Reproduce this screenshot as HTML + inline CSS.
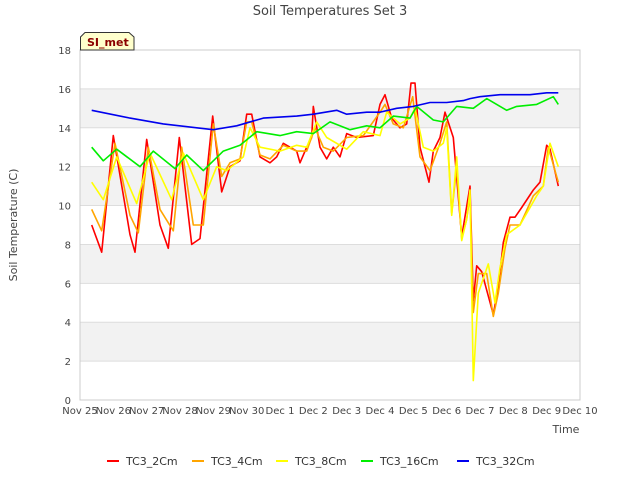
<!DOCTYPE html>
<html><head><meta charset="utf-8"><style>
body{margin:0;background:#fff;font-family:"Liberation Sans","DejaVu Sans",sans-serif;}
svg text{font-family:"DejaVu Sans","Liberation Sans",sans-serif;}
</style></head><body>
<svg id="c" width="640" height="480" viewBox="0 0 640 480">
<text x="330" y="15" text-anchor="middle" font-size="13" fill="#444">Soil Temperatures Set 3</text>
<g id="bands"></g>
<g id="grid"></g>
<rect x="80" y="50" width="500" height="350" fill="none" stroke="#ccc"/>
<g id="ticks"></g>
<g id="series"></g>
<text transform="translate(17,225) rotate(-90)" text-anchor="middle" font-size="11" fill="#444">Soil Temperature (C)</text>
<text x="566" y="433" text-anchor="middle" font-size="11" fill="#444">Time</text>
<g>
<path d="M80.5,50 L80.5,37 L85,32.5 L129,32.5 L134,37 L134,50 Z" fill="#ffffcc" stroke="#333"/>
<text x="87" y="46" font-size="11" font-weight="bold" fill="#8b0000">SI_met</text>
</g>
<g id="legend"></g>
</svg>
<script>
const xLabels=["Nov 25","Nov 26","Nov 27","Nov 28","Nov 29","Nov 30","Dec 1","Dec 2","Dec 3","Dec 4","Dec 5","Dec 6","Dec 7","Dec 8","Dec 9","Dec 10"];
const yTicks=[0,2,4,6,8,10,12,14,16,18];
const seriesNames=["TC3_2Cm","TC3_4Cm","TC3_8Cm","TC3_16Cm","TC3_32Cm"];
const seriesColors=["#ff0000","#ffa500","#ffff00","#00ee00","#0000ee"];
const t2=[0.35,0.65,1.0,1.5,1.65,2.0,2.4,2.65,2.98,3.35,3.6,3.98,4.25,4.5,4.8,5.0,5.15,5.4,5.7,5.9,6.1,6.5,6.6,6.8,6.95,7.0,7.2,7.4,7.6,7.8,8.0,8.3,8.8,9.0,9.15,9.35,9.6,9.8,9.93,10.05,10.2,10.47,10.6,10.8,10.95,11.2,11.45,11.7,11.8,11.9,12.05,12.4,12.55,12.7,12.9,13.05,13.25,13.6,13.8,14.0,14.1,14.35];
const v2=[9.0,7.6,13.6,8.5,7.6,13.4,9.0,7.8,13.5,8.0,8.3,14.6,10.7,12.0,12.3,14.7,14.7,12.5,12.2,12.5,13.2,12.8,12.2,13.0,13.5,15.1,13.0,12.4,13.0,12.5,13.7,13.5,13.6,15.2,15.7,14.5,14.0,14.2,16.3,16.3,13.0,11.2,12.8,13.5,14.8,13.5,8.4,11.0,5.1,6.9,6.6,4.4,5.8,8.1,9.4,9.4,9.9,10.8,11.2,13.1,12.9,11.0];
const t4=[0.35,0.65,1.05,1.5,1.75,2.05,2.4,2.8,3.05,3.4,3.7,4.0,4.25,4.5,4.8,5.0,5.15,5.4,5.7,6.1,6.5,6.8,7.05,7.3,7.6,8.0,8.5,9.0,9.15,9.4,9.7,9.98,10.2,10.5,10.8,11.0,11.15,11.3,11.45,11.6,11.7,11.8,11.95,12.2,12.4,12.55,12.75,12.9,13.2,13.6,13.9,14.05,14.35];
const v4=[9.8,8.7,13.2,9.5,8.6,13.0,9.8,8.7,13.0,9.0,9.0,14.2,11.5,12.2,12.4,14.3,14.3,12.6,12.4,13.1,12.8,12.8,14.0,13.0,12.8,13.5,13.6,14.8,15.2,14.2,14.0,15.6,12.5,11.8,13.2,14.3,9.6,12.0,8.3,9.3,10.5,4.5,6.5,6.5,4.3,5.5,7.8,9.0,9.0,10.5,11.0,13.0,11.2];
const t8=[0.35,0.7,1.1,1.7,2.1,2.75,3.1,3.7,4.1,4.4,4.9,5.1,5.4,6.0,6.5,6.8,7.1,7.4,8.0,8.5,9.0,9.2,9.6,9.9,10.05,10.3,10.6,10.9,11.0,11.15,11.3,11.45,11.6,11.7,11.8,11.95,12.25,12.45,12.6,12.8,13.2,13.7,13.9,14.1,14.35];
const v8=[11.2,10.3,12.5,10.1,12.7,10.3,12.7,10.3,12.0,11.8,12.5,14.0,13.0,12.8,13.1,13.0,14.3,13.5,12.9,13.8,13.6,14.8,14.2,14.5,15.0,13.0,12.8,13.2,14.0,9.5,12.5,8.2,9.3,10.8,1.0,5.5,7.0,5.0,6.8,8.5,9.0,10.5,11.0,13.2,12.0];
const t16=[0.35,0.7,1.1,1.8,2.2,2.85,3.2,3.7,4.3,4.8,5.3,6.0,6.5,7.0,7.5,8.1,8.6,9.0,9.4,9.9,10.1,10.6,10.9,11.3,11.8,12.2,12.8,13.1,13.7,14.2,14.35];
const v16=[13.0,12.3,12.9,12.0,12.8,11.9,12.6,11.8,12.8,13.1,13.8,13.6,13.8,13.7,14.3,13.9,14.1,14.0,14.6,14.5,15.1,14.4,14.3,15.1,15.0,15.5,14.9,15.1,15.2,15.6,15.2];
const t32=[0.35,1.5,2.5,3.5,4.0,4.7,5.5,6.5,7.0,7.7,8.0,8.6,9.0,9.5,10.0,10.5,11.0,11.5,11.7,12.0,12.6,13.0,13.5,14.0,14.35];
const v32=[14.9,14.5,14.2,14.0,13.9,14.1,14.5,14.6,14.7,14.9,14.7,14.8,14.8,15.0,15.1,15.3,15.3,15.4,15.5,15.6,15.7,15.7,15.7,15.8,15.8];
const allT=[t2,t4,t8,t16,t32], allV=[v2,v4,v8,v16,v32];
const NS="http://www.w3.org/2000/svg";
const X=d=>80+d*500/15, Y=v=>400-v*350/18;
function mk(tag,attrs,parent){const e=document.createElementNS(NS,tag);for(const k in attrs)e.setAttribute(k,attrs[k]);parent.appendChild(e);return e;}
const bands=document.getElementById('bands'),grid=document.getElementById('grid'),ticks=document.getElementById('ticks'),ser=document.getElementById('series'),leg=document.getElementById('legend');
for(let i=0;i<yTicks.length-1;i++){
 if(i%2===1){const r=mk('rect',{x:80,y:Y(yTicks[i+1]),width:500,height:Y(yTicks[i])-Y(yTicks[i+1]),fill:'#f2f2f2'},bands);
 
 }
}
yTicks.forEach(v=>{
 const l=mk('line',{x1:80,x2:580,y1:Y(v),y2:Y(v),stroke:'#ddd'},grid);
 
 
 const t=mk('text',{x:71,y:Y(v)+4,'text-anchor':'end','font-size':10,fill:'#444'},ticks);t.textContent=v;
 
 
});
xLabels.forEach((s,i)=>{
 const t=mk('text',{x:X(i),y:414,'text-anchor':'middle','font-size':10,fill:'#444'},ticks);t.textContent=s;
 
 
});
seriesNames.forEach((n,k)=>{
 const pts=allT[k].map((d,i)=>X(d).toFixed(1)+','+Y(allV[k][i]).toFixed(1)).join(' ');
 const p=mk('polyline',{points:pts,fill:'none',stroke:seriesColors[k],'stroke-width':1.6,'stroke-linejoin':'round'},ser);
 
 
});
const lx=[107,192,276,361,457];
seriesNames.forEach((n,k)=>{
 const g=mk('g',{},leg);
 
 
 mk('line',{x1:lx[k],x2:lx[k]+12,y1:461,y2:461,stroke:seriesColors[k],'stroke-width':2},g);
 const t=mk('text',{x:lx[k]+19,y:465,'font-size':11,fill:'#333'},g);t.textContent=n;
});
</script>
</body></html>
